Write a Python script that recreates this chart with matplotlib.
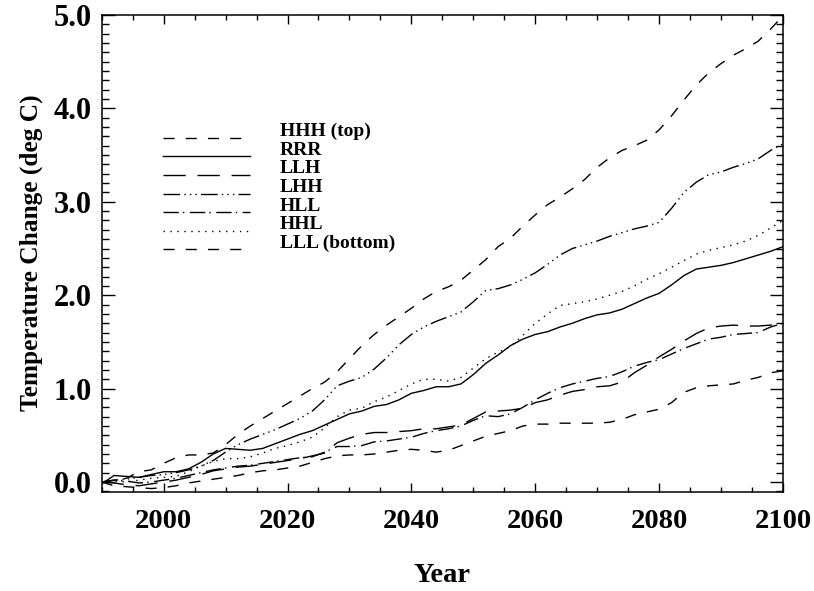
import matplotlib

matplotlib.use('Agg')

import matplotlib.pyplot as plt
import numpy as np
from matplotlib.lines import Line2D
from matplotlib.ticker import MultipleLocator, FormatStrFormatter

plt.rcParams['font.family'] = ['Liberation Serif', 'DejaVu Serif']
plt.rcParams['font.weight'] = 'bold'

years = np.arange(1990, 2101, 2)

# temperature change (deg C), one value every 2 years, 1990..2100
hhh = [0.00, 0.02, 0.04, 0.11, 0.13,
       0.20, 0.26, 0.29, 0.29, 0.31,
       0.40, 0.51, 0.60, 0.68, 0.76,
       0.84, 0.92, 1.00, 1.07, 1.18,
       1.32, 1.46, 1.58, 1.68, 1.77,
       1.86, 1.96, 2.04, 2.09, 2.16,
       2.27, 2.38, 2.52, 2.61, 2.74,
       2.86, 2.97, 3.05, 3.14, 3.24,
       3.37, 3.47, 3.55, 3.60, 3.66,
       3.77, 3.92, 4.09, 4.25, 4.38,
       4.48, 4.57, 4.64, 4.72, 4.85,
       4.99]
rrr = [-0.02, 0.07, 0.06, 0.05, 0.08,
       0.11, 0.11, 0.14, 0.21, 0.30,
       0.36, 0.35, 0.34, 0.36, 0.41,
       0.46, 0.51, 0.55, 0.61, 0.67,
       0.73, 0.76, 0.81, 0.83, 0.88,
       0.95, 0.98, 1.02, 1.02, 1.05,
       1.15, 1.27, 1.36, 1.46, 1.53,
       1.58, 1.61, 1.66, 1.70, 1.75,
       1.79, 1.81, 1.85, 1.91, 1.97,
       2.02, 2.11, 2.21, 2.28, 2.30,
       2.32, 2.35, 2.39, 2.43, 2.47,
       2.52]
llh = [0.00, -0.01, -0.03, -0.04, -0.02,
       0.00, 0.02, 0.05, 0.08, 0.12,
       0.14, 0.16, 0.17, 0.19, 0.21,
       0.23, 0.25, 0.28, 0.31, 0.42,
       0.47, 0.51, 0.53, 0.53, 0.54,
       0.55, 0.57, 0.57, 0.59, 0.61,
       0.68, 0.75, 0.76, 0.77, 0.79,
       0.85, 0.88, 0.93, 0.97, 0.99,
       1.02, 1.03, 1.07, 1.17, 1.25,
       1.34, 1.42, 1.51, 1.59, 1.65,
       1.67, 1.68, 1.67, 1.67, 1.68,
       1.71]
lhh = [0.00, 0.02, 0.03, 0.05, 0.07,
       0.08, 0.10, 0.13, 0.17, 0.23,
       0.32, 0.40, 0.46, 0.51, 0.56,
       0.62, 0.68, 0.76, 0.88, 1.03,
       1.08, 1.12, 1.21, 1.33, 1.47,
       1.58, 1.66, 1.72, 1.77, 1.82,
       1.93, 2.05, 2.07, 2.11, 2.17,
       2.24, 2.33, 2.43, 2.50, 2.54,
       2.58, 2.63, 2.67, 2.71, 2.74,
       2.78, 2.93, 3.10, 3.21, 3.29,
       3.32, 3.37, 3.41, 3.46, 3.55,
       3.62]
hll = [0.00, 0.02, 0.01, -0.01, 0.00,
       0.02, 0.04, 0.07, 0.10, 0.13,
       0.15, 0.17, 0.18, 0.20, 0.22,
       0.24, 0.26, 0.27, 0.32, 0.38,
       0.38, 0.39, 0.43, 0.44, 0.46,
       0.48, 0.52, 0.55, 0.57, 0.60,
       0.66, 0.71, 0.70, 0.73, 0.80,
       0.88, 0.95, 1.01, 1.05, 1.08,
       1.11, 1.13, 1.18, 1.24, 1.28,
       1.31, 1.37, 1.43, 1.48, 1.53,
       1.55, 1.58, 1.59, 1.60, 1.66,
       1.70]
hhl = [0.00, 0.01, 0.00, 0.02, 0.04,
       0.05, 0.06, 0.11, 0.17, 0.22,
       0.25, 0.25, 0.27, 0.31, 0.36,
       0.39, 0.43, 0.48, 0.58, 0.70,
       0.77, 0.79, 0.86, 0.91, 0.98,
       1.05, 1.10, 1.10, 1.08, 1.12,
       1.22, 1.32, 1.39, 1.45, 1.57,
       1.70, 1.80, 1.89, 1.91, 1.93,
       1.96, 2.00, 2.04, 2.10, 2.17,
       2.23, 2.30, 2.37, 2.44, 2.48,
       2.51, 2.54, 2.58, 2.64, 2.72,
       2.80]
lll = [0.00, -0.04, -0.05, -0.06, -0.07,
       -0.06, -0.04, -0.01, 0.01, 0.03,
       0.05, 0.07, 0.10, 0.12, 0.13,
       0.15, 0.17, 0.21, 0.25, 0.28,
       0.29, 0.29, 0.30, 0.32, 0.34,
       0.35, 0.34, 0.32, 0.34, 0.39,
       0.44, 0.49, 0.52, 0.55, 0.60,
       0.62, 0.62, 0.63, 0.63, 0.63,
       0.63, 0.64, 0.67, 0.72, 0.75,
       0.78, 0.85, 0.96, 1.01, 1.03,
       1.04, 1.05, 1.09, 1.12, 1.17,
       1.19]

labels = ['HHH (top)', 'RRR', 'LLH', 'LHH', 'HLL', 'HHL', 'LLL (bottom)']
series = [hhh, rrr, llh, lhh, hll, hhl, lll]
# IDL-like line styles
styles = [(0, (8, 8)), '-', (0, (16, 8.5)), (0, (12, 3, 1, 3, 1, 3, 1, 3)),
          (0, (11, 3, 1, 4)), (0, (1, 4)), (0, (8, 8))]

fig = plt.figure(figsize=(8.14, 5.91), dpi=100)
ax = fig.add_axes([101.7 / 814, 1 - 492.3 / 591, 681.3 / 814, 477.3 / 591])

for vals, ls in zip(series, styles):
    ax.plot(years, vals, color='black', linewidth=1.0, linestyle=ls)

ax.set_xlim(1990, 2100)
ax.set_ylim(-0.11, 5.0)
ax.xaxis.set_major_locator(MultipleLocator(20))
ax.xaxis.set_minor_locator(MultipleLocator(5))
ax.yaxis.set_major_locator(MultipleLocator(1.0))
ax.yaxis.set_minor_locator(MultipleLocator(0.1))
ax.yaxis.set_major_formatter(FormatStrFormatter('%.1f'))

ax.tick_params(which='both', direction='in', top=True, right=True, width=1.0)
ax.tick_params(axis='x', which='major', length=6.7, pad=12, labelsize=20.5)
ax.tick_params(axis='x', which='minor', length=3.4)
ax.tick_params(axis='y', which='major', length=9.6, pad=7, labelsize=22)
ax.tick_params(axis='y', which='minor', length=4.8)
ax.tick_params(labelright=False, labeltop=False)
for lab in ax.get_xticklabels() + ax.get_yticklabels():
    lab.set_fontweight('bold')
for sp in ax.spines.values():
    sp.set_linewidth(1.1)

# hand-drawn legend, IDL style
for i, (lab, ls) in enumerate(zip(labels, styles)):
    y = 0.743 - i * 0.039
    ax.add_line(Line2D([0.0904, 0.2177], [y, y], transform=ax.transAxes,
                       color='black', linewidth=1.0, linestyle=ls))
    ax.text(0.2617, y + 0.003, lab, transform=ax.transAxes, fontsize=14,
            fontweight='bold', ha='left', va='baseline')

fig.text(442 / 814, 1 - 575 / 591, 'Year', fontsize=20.5, fontweight='bold',
         ha='center', va='center')
fig.text(31 / 814, 1 - 253 / 591, 'Temperature Change (deg C)', fontsize=18.3,
         fontweight='bold', rotation=90, ha='center', va='center')

fig.savefig('out.png', dpi=100, facecolor='white')
